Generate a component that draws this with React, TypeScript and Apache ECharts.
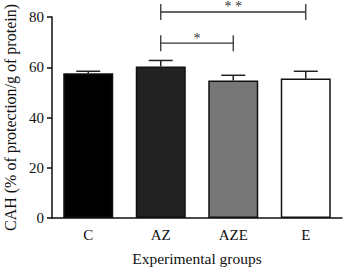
import React, { useEffect, useRef } from "react";
import * as echarts from "echarts";

const groups = ["C", "AZ", "AZE", "E"];
const means = [57.6, 60.3, 54.7, 55.5];
const sem = [0.8, 2.4, 2.1, 2.9];
const barColors = ["#000000", "#222222", "#777777", "#ffffff"];
const yTicks = [0, 20, 40, 60, 80];
// significance brackets: [fromIndex, toIndex, level, label]
const brackets: [number, number, number, string][] = [
  [1, 3, 82, "* *"],
  [1, 2, 69.6, "*"],
];

const FONT = "Liberation Serif";
const INK = "#333333";

export default function App() {
  const ref = useRef<HTMLDivElement>(null);
  useEffect(() => {
    if (!ref.current) return;
    const chart = echarts.init(ref.current, null, { renderer: "svg" });
    chart.setOption({
      animation: false,
      color: [INK],
      textStyle: { fontFamily: FONT },
      grid: { left: 52, right: 2, top: 17, bottom: 50, outerBoundsMode: "none", containLabel: false },
      xAxis: {
        type: "category",
        data: groups,
        axisLine: { lineStyle: { color: "#111", width: 1.5 } },
        axisTick: { alignWithLabel: true, length: 5, lineStyle: { color: "#111", width: 1.5 } },
        axisLabel: { color: "#111", fontFamily: FONT, fontSize: 15, margin: 9 },
        name: "Experimental groups",
        nameLocation: "middle",
        nameGap: 32,
        nameTextStyle: { color: "#111", fontFamily: FONT, fontSize: 15.5 },
      },
      yAxis: {
        type: "value",
        min: yTicks[0],
        max: yTicks[yTicks.length - 1],
        interval: 20,
        splitLine: { show: false },
        axisLine: { show: true, lineStyle: { color: "#111", width: 1.5 } },
        axisTick: { show: true, length: 5, lineStyle: { color: "#111", width: 1.5 } },
        axisLabel: { color: "#111", fontFamily: FONT, fontSize: 15, margin: 8 },
        name: "CAH (% of protection/g of protein)",
        nameLocation: "middle",
        nameGap: 31,
        nameTextStyle: { color: "#111", fontFamily: FONT, fontSize: 16 },
      },
      series: [
        {
          type: "bar",
          barWidth: 50,
          data: means.map((v, i) => ({
            value: v,
            itemStyle: { color: barColors[i], borderColor: "#111", borderWidth: 1.5 },
          })),
          z: 2,
        },
        {
          type: "custom",
          z: 3,
          itemStyle: { color: INK },
          data: means.map((m, i) => [i, m, m + sem[i]]),
          renderItem: (params: any, api: any) => {
            const i = api.value(0);
            const base = api.coord([i, api.value(1)]);
            const top = api.coord([i, api.value(2)]);
            const hw = 12;
            return {
              type: "group",
              children: [
                { type: "line", shape: { x1: base[0], y1: base[1], x2: top[0], y2: top[1] }, style: { stroke: "#222", lineWidth: 1.5 } },
                { type: "line", shape: { x1: top[0] - hw, y1: top[1], x2: top[0] + hw, y2: top[1] }, style: { stroke: "#222", lineWidth: 1.5 } },
              ],
            };
          },
        },
        {
          type: "custom",
          z: 3,
          clip: false,
          itemStyle: { color: INK },
          data: brackets.map((b) => [b[0], b[1], b[2]]),
          renderItem: (params: any, api: any) => {
            const b = brackets[params.dataIndex];
            const p1 = api.coord([api.value(0), api.value(2)]);
            const p2 = api.coord([api.value(1), api.value(2)]);
            const t = 8;
            const st = { stroke: INK, lineWidth: 1.3 };
            return {
              type: "group",
              children: [
                { type: "line", shape: { x1: p1[0], y1: p1[1], x2: p2[0], y2: p2[1] }, style: st },
                { type: "line", shape: { x1: p1[0], y1: p1[1] - t, x2: p1[0], y2: p1[1] + t }, style: st },
                { type: "line", shape: { x1: p2[0], y1: p2[1] - t, x2: p2[0], y2: p2[1] + t }, style: st },
                {
                  type: "text",
                  x: (p1[0] + p2[0]) / 2,
                  y: p1[1] - 12,
                  style: { text: b[3], fill: INK, stroke: "none", fontFamily: FONT, fontSize: 14, align: "center", verticalAlign: "top" },
                },
              ],
            };
          },
        },
      ],
    });
    return () => chart.dispose();
  }, []);
  return <div ref={ref} style={{ width: 344, height: 268, position: "absolute", left: 0, top: 0 }} />;
}
